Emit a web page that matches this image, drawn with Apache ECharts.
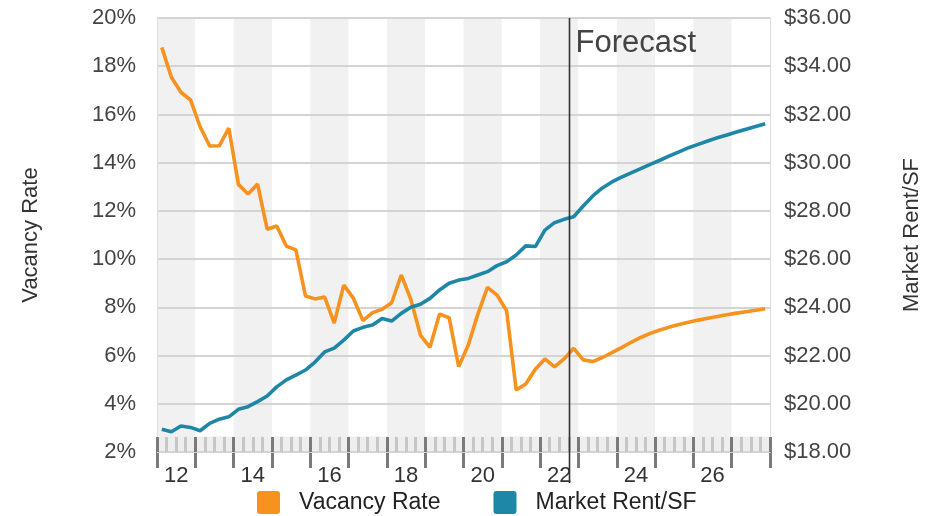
<!DOCTYPE html>
<html>
<head>
<meta charset="utf-8">
<script src="https://cdn.jsdelivr.net/npm/echarts@6/dist/echarts.min.js"></script>
<style>
  html, body { margin: 0; padding: 0; background: #fff; }
  #chart { width: 940px; height: 516px; }
</style>
</head>
<body>
<div id="chart"></div>
<script>
// Year labels (two-digit), 2012 through 2027
const yearLabels = ['12','13','14','15','16','17','18','19','20','21','22','23','24','25','26','27'];

// Quarterly vacancy rate (%), 2012 Q1 .. 2027 Q4
const vacancyRate = [
  18.78, 17.54, 16.92, 16.60, 15.49, 14.69, 14.70, 15.43,
  13.10, 12.70, 13.11, 11.24, 11.37, 10.54, 10.38, 8.47,
  8.35, 8.43, 7.35, 8.92, 8.38, 7.45, 7.78, 7.92,
  8.19, 9.34, 8.33, 6.85, 6.34, 7.72, 7.57, 5.54,
  6.44, 7.72, 8.83, 8.51, 7.86, 4.57, 4.82, 5.43,
  5.86, 5.53, 5.86, 6.30, 5.82, 5.75, 5.92, 6.12,
  6.33, 6.55, 6.75, 6.92, 7.06, 7.18, 7.29, 7.38,
  7.47, 7.55, 7.62, 7.69, 7.76, 7.82, 7.88, 7.94
];

// Quarterly market rent per square foot ($), 2012 Q1 .. 2027 Q4
const marketRent = [
  18.94, 18.84, 19.08, 19.02, 18.88, 19.19, 19.36, 19.46,
  19.77, 19.88, 20.09, 20.32, 20.70, 20.99, 21.19, 21.40,
  21.73, 22.15, 22.31, 22.64, 23.02, 23.17, 23.27, 23.54,
  23.43, 23.75, 24.00, 24.13, 24.37, 24.72, 25.00, 25.13,
  25.20, 25.34, 25.48, 25.73, 25.89, 26.17, 26.55, 26.52,
  27.20, 27.51, 27.65, 27.76, 28.20, 28.62, 28.95, 29.20,
  29.40, 29.58, 29.75, 29.93, 30.10, 30.28, 30.45, 30.62,
  30.76, 30.90, 31.03, 31.15, 31.27, 31.39, 31.50, 31.61
];

// Last actual quarter (index into the quarterly series); forecast begins after it
const lastActualIndex = 42;

const quarterLabels = [];
yearLabels.forEach(y => { for (let q = 1; q <= 4; q++) quarterLabels.push(y + ' Q' + q); });

const FONT = '"Liberation Sans", Arial, Helvetica, sans-serif';
const ORANGE = '#F6921E';
const BLUE = '#1E87A7';
const SQUARE_ICON = 'path://M3,0 H20 Q23,0 23,3 V20 Q23,23 20,23 H3 Q0,23 0,20 V3 Q0,0 3,0 Z';

const chart = echarts.init(document.getElementById('chart'), null, { renderer: 'canvas' });

chart.setOption({
  animation: false,
  textStyle: { fontFamily: FONT },
  grid: { left: 157, right: 170, top: 18, bottom: 64, containLabel: false },
  legend: {
    left: 252, top: 486,
    itemWidth: 23, itemHeight: 23, itemGap: 53,
    textStyle: { fontSize: 23, color: '#222', fontFamily: FONT, padding: [0, 0, 0, 14] },
    data: [
      { name: 'Vacancy Rate', icon: SQUARE_ICON },
      { name: 'Market Rent/SF', icon: SQUARE_ICON }
    ]
  },
  xAxis: [
    {
      // year bands, labels and the outer part of the year ticks
      type: 'category', data: yearLabels, position: 'bottom', boundaryGap: true, z: 0,
      axisLine: { show: true, lineStyle: { color: '#cfcfcf', width: 1 } },
      axisTick: { show: true, interval: 0, inside: false, length: 16, lineStyle: { color: '#7a7a7a', width: 3 } },
      axisLabel: { interval: 1, fontSize: 22, color: '#333', margin: 13, fontFamily: FONT },
      splitLine: { show: false },
      splitArea: { show: true, interval: 0, areaStyle: { color: ['#f1f1f1', '#ffffff'] } }
    },
    {
      // quarterly axis carrying the series, with light inner ticks
      type: 'category', data: quarterLabels, position: 'bottom', boundaryGap: true, z: 10,
      axisLine: { show: false },
      axisTick: { show: true, interval: 0, inside: true, length: 15, lineStyle: { color: '#c6c6c6', width: 3 } },
      axisLabel: { show: false },
      splitLine: { show: false }, splitArea: { show: false }
    },
    {
      // inner part of the year ticks
      type: 'category', data: yearLabels, position: 'bottom', boundaryGap: true, z: 11,
      axisLine: { show: false },
      axisTick: { show: true, interval: 0, inside: true, length: 15, lineStyle: { color: '#7a7a7a', width: 3 } },
      axisLabel: { show: false },
      splitLine: { show: false }, splitArea: { show: false }
    }
  ],
  yAxis: [
    {
      type: 'value', position: 'left', min: 2, max: 20, interval: 2, z: 2,
      name: 'Vacancy Rate', nameLocation: 'middle', nameRotate: 90, nameGap: 115,
      nameTextStyle: { fontSize: 22, color: '#333', fontFamily: FONT },
      axisLine: { show: true, lineStyle: { color: '#dddddd' } },
      axisTick: { show: false },
      axisLabel: { formatter: '{value}%', fontSize: 22, color: '#444', margin: 21, fontFamily: FONT },
      splitLine: { show: true, lineStyle: { color: '#d4d4d4', width: 2 } }
    },
    {
      type: 'value', position: 'right', min: 18, max: 36, interval: 2, z: 2,
      name: 'Market Rent/SF', nameLocation: 'middle', nameRotate: 90, nameGap: 131,
      nameTextStyle: { fontSize: 22, color: '#333', fontFamily: FONT },
      axisLine: { show: true, lineStyle: { color: '#dddddd' } },
      axisTick: { show: false },
      axisLabel: { formatter: v => '$' + v.toFixed(2), fontSize: 22, color: '#444', margin: 14, fontFamily: FONT },
      splitLine: { show: false }
    }
  ],
  series: [
    {
      name: 'Vacancy Rate', type: 'line', xAxisIndex: 1, yAxisIndex: 0,
      data: vacancyRate, showSymbol: false, symbol: 'none',
      lineStyle: { color: ORANGE, width: 3.6 }, itemStyle: { color: ORANGE },
      markArea: {
        silent: true,
        itemStyle: { color: '#eeeeee' },
        data: [[{ yAxis: 2 }, { yAxis: 2.64 }]]
      },
      z: 3
    },
    {
      name: 'Market Rent/SF', type: 'line', xAxisIndex: 1, yAxisIndex: 1,
      data: marketRent, showSymbol: false, symbol: 'none',
      lineStyle: { color: BLUE, width: 3.6 }, itemStyle: { color: BLUE },
      z: 3
    }
  ]
});

// Forecast divider: halfway between the last actual and first forecast quarter
const xa = chart.convertToPixel({ xAxisIndex: 1 }, quarterLabels[lastActualIndex]);
const xb = chart.convertToPixel({ xAxisIndex: 1 }, quarterLabels[lastActualIndex + 1]);
const fx = Math.round((xa + xb) / 2) + 0.5;
const yTop = chart.convertToPixel({ yAxisIndex: 0 }, 20);
const yBottom = chart.convertToPixel({ yAxisIndex: 0 }, 2);

chart.setOption({
  graphic: [
    {
      type: 'line', z: 50, silent: true,
      shape: { x1: fx, y1: yTop, x2: fx, y2: yBottom + 31 },
      style: { stroke: '#333', lineWidth: 1.6 }
    },
    {
      type: 'text', z: 50, silent: true,
      x: fx + 6, y: yTop + 10,
      style: { text: 'Forecast', fontSize: 31, fontFamily: FONT, fill: '#444' }
    }
  ]
});
</script>
</body>
</html>
